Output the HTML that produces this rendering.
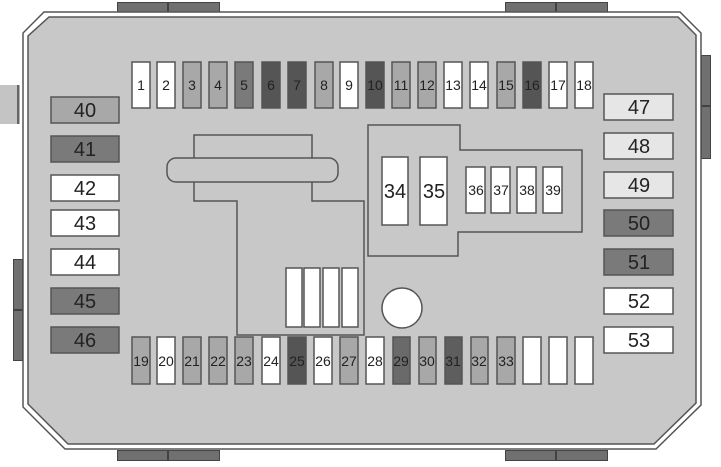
<!DOCTYPE html>
<html><head><meta charset="utf-8"><style>
html,body{margin:0;padding:0;background:#fff;width:721px;height:467px;overflow:hidden}
svg{display:block}
text{font-family:"Liberation Sans",sans-serif;text-anchor:middle;fill:#222}
</style></head><body>
<svg width="721" height="467" viewBox="0 0 721 467" xmlns="http://www.w3.org/2000/svg">
<!-- connectors -->
<g fill="#707070" stroke="#444" stroke-width="1">
<rect x="117.5" y="2.5" width="102" height="10"/><rect x="505.5" y="2.5" width="102" height="10"/>
<rect x="117.5" y="450.5" width="102" height="10"/><rect x="505.5" y="450.5" width="102" height="10"/>
<rect x="13.5" y="259.5" width="9" height="101"/><rect x="701.5" y="55.5" width="9" height="103"/>
</g>
<g stroke="#333" stroke-width="1.5"><line x1="168" y1="3" x2="168" y2="12"/><line x1="556" y1="3" x2="556" y2="12"/><line x1="168" y1="451" x2="168" y2="460"/><line x1="556" y1="451" x2="556" y2="460"/><line x1="14" y1="310" x2="22" y2="310"/><line x1="702" y1="106" x2="710" y2="106"/></g>
<rect x="0" y="85" width="19" height="39" fill="#c4c4c4"/><rect x="17" y="85" width="2.5" height="39" fill="#666"/>
<!-- body -->
<polygon points="44,12 680,12 701,33 701,405 656,449 65,449 23,407 23,33" fill="#fff" stroke="#555" stroke-width="1.5"/>
<polygon points="49,17 678,17 696,35 696,403 654,444 68,444 28,404 28,36" fill="#c8c8c8" stroke="#555" stroke-width="1.5"/>
<!-- T structure -->
<g fill="none" stroke="#555" stroke-width="1.5">
<polyline points="194,158 194,135 312,135 312,158"/>
<rect x="167" y="158" width="171" height="24" rx="9"/>
<polyline points="194,182 194,201 237,201 237,335 364,335 364,201 312,201 312,182"/>
<polygon points="368,125 460,125 460,150 582,150 582,232 458,232 458,256 368,256"/>
</g>
<circle cx="402" cy="308" r="20" fill="#fff" stroke="#555" stroke-width="1.5"/>
<g fill="#fff" stroke="#555" stroke-width="1.5">
<rect x="286" y="268" width="16" height="59"/><rect x="304" y="268" width="16" height="59"/><rect x="323" y="268" width="16" height="59"/><rect x="342" y="268" width="16" height="59"/>
<rect x="382" y="157" width="26" height="68"/><rect x="420" y="157" width="27" height="68"/>
<rect x="466" y="167" width="19" height="46"/><rect x="491" y="167" width="19" height="46"/><rect x="517" y="167" width="19" height="46"/><rect x="543" y="167" width="19" height="46"/>
</g>
<g font-size="20"><text x="395" y="198">34</text><text x="434" y="198">35</text></g>
<g font-size="14"><text x="476" y="195">36</text><text x="501" y="195">37</text><text x="527" y="195">38</text><text x="553" y="195">39</text></g>
<!-- top fuses -->
<g stroke="#555" stroke-width="1.5">
<rect x="132" y="62" width="18" height="46" fill="#fff"/>
<rect x="157" y="62" width="18" height="46" fill="#fff"/>
<rect x="183" y="62" width="18" height="46" fill="#a8a8a8"/>
<rect x="209" y="62" width="18" height="46" fill="#a8a8a8"/>
<rect x="235" y="62" width="18" height="46" fill="#7a7a7a"/>
<rect x="262" y="62" width="18" height="46" fill="#555"/>
<rect x="288" y="62" width="18" height="46" fill="#555"/>
<rect x="315" y="62" width="18" height="46" fill="#a8a8a8"/>
<rect x="340" y="62" width="18" height="46" fill="#fff"/>
<rect x="366" y="62" width="18" height="46" fill="#555"/>
<rect x="392" y="62" width="18" height="46" fill="#a8a8a8"/>
<rect x="418" y="62" width="18" height="46" fill="#a8a8a8"/>
<rect x="444" y="62" width="18" height="46" fill="#fff"/>
<rect x="470" y="62" width="18" height="46" fill="#fff"/>
<rect x="497" y="62" width="18" height="46" fill="#a8a8a8"/>
<rect x="523" y="62" width="18" height="46" fill="#555"/>
<rect x="549" y="62" width="18" height="46" fill="#fff"/>
<rect x="575" y="62" width="18" height="46" fill="#fff"/>
</g>
<g font-size="14">
<text x="141" y="90">1</text><text x="166" y="90">2</text><text x="192" y="90">3</text><text x="218" y="90">4</text><text x="244" y="90">5</text><text x="271" y="90">6</text><text x="297" y="90">7</text><text x="324" y="90">8</text><text x="349" y="90">9</text><text x="375" y="90">10</text><text x="401" y="90">11</text><text x="427" y="90">12</text><text x="453" y="90">13</text><text x="479" y="90">14</text><text x="506" y="90">15</text><text x="532" y="90">16</text><text x="558" y="90">17</text><text x="584" y="90">18</text>
</g>
<!-- bottom fuses -->
<g stroke="#555" stroke-width="1.5">
<rect x="132" y="337" width="18" height="47" fill="#a8a8a8"/>
<rect x="157" y="337" width="18" height="47" fill="#fff"/>
<rect x="183" y="337" width="18" height="47" fill="#a8a8a8"/>
<rect x="209" y="337" width="18" height="47" fill="#a8a8a8"/>
<rect x="235" y="337" width="18" height="47" fill="#a8a8a8"/>
<rect x="262" y="337" width="18" height="47" fill="#fff"/>
<rect x="288" y="337" width="18" height="47" fill="#555"/>
<rect x="314" y="337" width="18" height="47" fill="#fff"/>
<rect x="340" y="337" width="18" height="47" fill="#a8a8a8"/>
<rect x="366" y="337" width="18" height="47" fill="#fff"/>
<rect x="393" y="337" width="17" height="47" fill="#6a6a6a"/>
<rect x="419" y="337" width="17" height="47" fill="#a8a8a8"/>
<rect x="445" y="337" width="17" height="47" fill="#5e5e5e"/>
<rect x="471" y="337" width="17" height="47" fill="#a8a8a8"/>
<rect x="497" y="337" width="18" height="47" fill="#a8a8a8"/>
<rect x="523" y="337" width="18" height="47" fill="#fff"/>
<rect x="549" y="337" width="18" height="47" fill="#fff"/>
<rect x="575" y="337" width="18" height="47" fill="#fff"/>
</g>
<g font-size="14">
<text x="141" y="366">19</text><text x="166" y="366">20</text><text x="192" y="366">21</text><text x="218" y="366">22</text><text x="244" y="366">23</text><text x="271" y="366">24</text><text x="297" y="366">25</text><text x="323" y="366">26</text><text x="349" y="366">27</text><text x="375" y="366">28</text><text x="401" y="366">29</text><text x="427" y="366">30</text><text x="453" y="366">31</text><text x="479" y="366">32</text><text x="506" y="366">33</text>
</g>
<!-- side boxes -->
<g stroke="#555" stroke-width="1.5">
<rect x="51" y="97" width="68" height="26" fill="#a8a8a8"/>
<rect x="51" y="136" width="68" height="26" fill="#7a7a7a"/>
<rect x="51" y="175" width="68" height="26" fill="#fff"/>
<rect x="51" y="210" width="68" height="26" fill="#fff"/>
<rect x="51" y="249" width="68" height="26" fill="#fff"/>
<rect x="51" y="288" width="68" height="26" fill="#7a7a7a"/>
<rect x="51" y="327" width="68" height="26" fill="#7a7a7a"/>
<rect x="604" y="94" width="69" height="26" fill="#e6e6e6"/>
<rect x="604" y="133" width="69" height="26" fill="#e6e6e6"/>
<rect x="604" y="172" width="69" height="26" fill="#e6e6e6"/>
<rect x="604" y="210" width="69" height="26" fill="#7a7a7a"/>
<rect x="604" y="249" width="69" height="26" fill="#7a7a7a"/>
<rect x="604" y="288" width="69" height="26" fill="#fff"/>
<rect x="604" y="327" width="69" height="26" fill="#fff"/>
</g>
<g font-size="20">
<text x="85" y="117">40</text><text x="85" y="156">41</text><text x="85" y="195">42</text><text x="85" y="230">43</text><text x="85" y="269">44</text><text x="85" y="308">45</text><text x="85" y="347">46</text>
<text x="639" y="114">47</text><text x="639" y="153">48</text><text x="639" y="192">49</text><text x="639" y="230">50</text><text x="639" y="269">51</text><text x="639" y="308">52</text><text x="639" y="347">53</text>
</g>
</svg>
</body></html>
